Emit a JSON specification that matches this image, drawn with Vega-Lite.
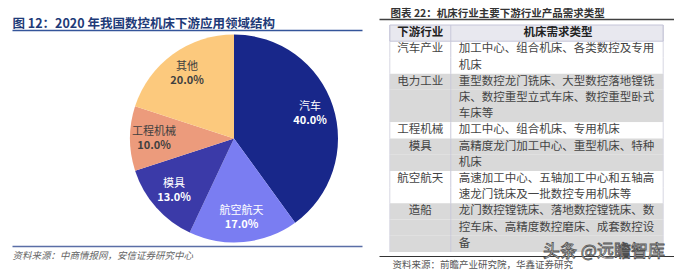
{
  "$schema": "https://vega.github.io/schema/vega-lite/v6.json",
  "autosize": {"type": "pad"},
  "padding": {"left": 12, "top": 8, "right": 0, "bottom": 5},
  "bounds": "flush",
  "spacing": 17,
  "config": {
    "font": "Noto Sans CJK SC",
    "view": {"stroke": null},
    "axis": {"minExtent": 0, "maxExtent": 0, "grid": false, "ticks": false, "labels": false}
  },
  "hconcat": [
    {
      "width": 350,
      "height": 227,
      "data": {"values": [
        {"领域": "汽车", "share": 0.40, "seq": 1},
        {"领域": "航空航天", "share": 0.17, "seq": 2},
        {"领域": "模具", "share": 0.13, "seq": 3},
        {"领域": "工程机械", "share": 0.10, "seq": 4},
        {"领域": "其他", "share": 0.20, "seq": 5}
      ]},
      "layer": [
        {
          "layer": [
            {
              "mark": {"type": "arc", "outerRadius": 104},
              "encoding": {
                "theta": {"field": "share", "type": "quantitative", "stack": true},
                "order": {"field": "seq", "type": "quantitative"},
                "color": {"field": "领域", "type": "nominal", "legend": null,
                  "scale": {"domain": ["汽车", "航空航天", "模具", "工程机械", "其他"],
                            "range": ["#18278a", "#7a7df2", "#3b3aa8", "#ec9b7c", "#fcc97d"]}},
                "x": {"datum": 222, "type": "quantitative", "scale": {"domain": [0, 350]},
                  "axis": {"orient": "top", "offset": -5, "domain": true, "domainColor": "#34559a", "domainWidth": 1.5,
                    "title": "图 12：2020 年我国数控机床下游应用领域结构", "titleFontSize": 12.5, "titleFontWeight": "bold",
                    "titleColor": "#1e3a78", "titleAnchor": "start", "titleAlign": "left", "titleBaseline": "alphabetic", "titlePadding": 2.5}}
              }
            },
            {
              "mark": {"type": "text", "radius": 80, "dy": -7, "fontSize": 11},
              "encoding": {
                "theta": {"field": "share", "type": "quantitative", "stack": true},
                "order": {"field": "seq", "type": "quantitative"},
                "text": {"field": "领域"},
                "color": {"condition": {"test": "datum['领域'] === '工程机械' || datum['领域'] === '其他'", "value": "#404040"}, "value": "#ffffff"},
                "x": {"datum": 222, "type": "quantitative"}
              }
            },
            {
              "mark": {"type": "text", "radius": 80, "dy": 7, "fontSize": 11, "fontWeight": "bold"},
              "encoding": {
                "theta": {"field": "share", "type": "quantitative", "stack": true},
                "order": {"field": "seq", "type": "quantitative"},
                "text": {"field": "share", "format": ".1%"},
                "color": {"condition": {"test": "datum['领域'] === '工程机械' || datum['领域'] === '其他'", "value": "#404040"}, "value": "#ffffff"},
                "x": {"datum": 222, "type": "quantitative"}
              }
            }
          ]
        },
        {
          "mark": {"type": "text", "text": ""},
          "encoding": {
            "x": {"datum": 0, "type": "quantitative", "scale": {"domain": [0, 350]},
              "axis": {"orient": "bottom", "offset": -6, "domain": true, "domainColor": "#5a6ea6", "domainWidth": 1.5,
                "title": "资料来源：中商情报网，安信证券研究中心", "titleFontSize": 9.5, "titleFontWeight": "normal",
                "titleFontStyle": "italic", "titleColor": "#666666", "titleAnchor": "start", "titleAlign": "left",
                "titleBaseline": "top", "titlePadding": 4}}
          }
        }
      ],
      "resolve": {"scale": {"x": "independent"}}
    },
    {
      "width": 295,
      "height": 227,
      "layer": [
        {
          "data": {"values": [
            {"line": 0, "行业": "下游行业", "需求": "机床需求类型"},
            {"line": 1, "行业": "汽车产业", "需求": "加工中心、组合机床、各类数控及专用"},
            {"line": 2, "行业": "汽车产业", "需求": "机床"},
            {"line": 3, "行业": "电力工业", "需求": "重型数控龙门铣床、大型数控落地镗铣"},
            {"line": 4, "行业": "电力工业", "需求": "床、数控重型立式车床、数控重型卧式"},
            {"line": 5, "行业": "电力工业", "需求": "车床等"},
            {"line": 6, "行业": "工程机械", "需求": "加工中心、组合机床、专用机床"},
            {"line": 7, "行业": "模具", "需求": "高精度龙门加工中心、重型机床、特种"},
            {"line": 8, "行业": "模具", "需求": "机床"},
            {"line": 9, "行业": "航空航天", "需求": "高速加工中心、五轴加工中心和五轴高"},
            {"line": 10, "行业": "航空航天", "需求": "速龙门铣床及一批数控专用机床等"},
            {"line": 11, "行业": "造船", "需求": "龙门数控镗铣床、落地数控镗铣床、数"},
            {"line": 12, "行业": "造船", "需求": "控车床、高精度数控磨床、成套数控设"},
            {"line": 13, "行业": "造船", "需求": "备"}
          ]},
          "layer": [
            {
              "mark": {"type": "rect"},
              "encoding": {
                "y": {"field": "line", "type": "ordinal", "scale": {"paddingInner": 0, "paddingOuter": 0}, "axis": null},
                "x": {"datum": 11, "type": "quantitative", "scale": {"domain": [0, 295]},
                  "axis": {"orient": "top", "offset": 6, "domain": true, "domainColor": "#404040", "domainWidth": 1.5,
                    "title": "图表 22：机床行业主要下游行业产品需求类型", "titleFontSize": 10.5, "titleFontWeight": "bold",
                    "titleColor": "#333333", "titleX": 11, "titleAlign": "left", "titleBaseline": "alphabetic", "titlePadding": 2.2}},
                "x2": {"datum": 289},
                "fill": {"field": "行业", "type": "nominal", "legend": null,
                  "scale": {"domain": ["下游行业", "汽车产业", "电力工业", "工程机械", "模具", "航空航天", "造船"],
                            "range": ["#e8e8ef", "#ffffff", "#d9d9d9", "#ffffff", "#d9d9d9", "#ffffff", "#d9d9d9"]}}
              }
            },
            {
              "mark": {"type": "rect", "fill": "#c9c9da"},
              "encoding": {
                "y": {"field": "line", "type": "ordinal"},
                "x": {"datum": 72.5, "type": "quantitative"},
                "x2": {"datum": 73.5}
              }
            },
            {
              "mark": {"type": "rect", "fill": "#d6d6e2"},
              "encoding": {
                "y": {"field": "line", "type": "ordinal"},
                "x": {"datum": 10.5, "type": "quantitative"},
                "x2": {"datum": 11.5}
              }
            },
            {
              "mark": {"type": "rect", "fill": "#d6d6e2"},
              "encoding": {
                "y": {"field": "line", "type": "ordinal"},
                "x": {"datum": 288.5, "type": "quantitative"},
                "x2": {"datum": 289.5}
              }
            },
            {
              "transform": [{"filter": "datum.line === 0"}],
              "mark": {"type": "rect", "fill": "transparent", "stroke": "#c4c4d8", "strokeWidth": 1},
              "encoding": {
                "y": {"field": "line", "type": "ordinal"},
                "x": {"datum": 11, "type": "quantitative"},
                "x2": {"datum": 289}
              }
            },
            {
              "transform": [{"filter": "datum.line > 0"}],
              "mark": {"type": "text", "align": "left", "fontSize": 11.5, "color": "#444444"},
              "encoding": {
                "y": {"field": "line", "type": "ordinal"},
                "x": {"datum": 81, "type": "quantitative"},
                "text": {"field": "需求"}
              }
            },
            {
              "transform": [
                {"filter": "datum.line > 0"},
                {"aggregate": [{"op": "min", "field": "line", "as": "line"}], "groupby": ["行业"]}
              ],
              "mark": {"type": "text", "align": "center", "fontSize": 11.5, "color": "#444444"},
              "encoding": {
                "y": {"field": "line", "type": "ordinal"},
                "x": {"datum": 42, "type": "quantitative"},
                "text": {"field": "行业"}
              }
            },
            {
              "transform": [{"filter": "datum.line === 0"}],
              "mark": {"type": "text", "align": "center", "fontSize": 11.5, "fontWeight": "bold", "color": "#222222"},
              "encoding": {
                "y": {"field": "line", "type": "ordinal"},
                "x": {"datum": 42, "type": "quantitative"},
                "text": {"field": "行业"}
              }
            },
            {
              "transform": [{"filter": "datum.line === 0"}],
              "mark": {"type": "text", "align": "center", "fontSize": 11.5, "fontWeight": "bold", "color": "#222222"},
              "encoding": {
                "y": {"field": "line", "type": "ordinal"},
                "x": {"datum": 182, "type": "quantitative"},
                "text": {"field": "需求"}
              }
            }
          ]
        },
        {
          "data": {"values": [{"水印": "头条 @远瞻智库"}]},
          "mark": {"type": "text", "fontSize": 17, "fill": "#ffffff", "stroke": "#505050", "strokeWidth": 0.8, "align": "center", "baseline": "middle"},
          "encoding": {
            "text": {"field": "水印"},
            "x": {"datum": 225, "type": "quantitative", "scale": {"domain": [0, 295]},
              "axis": {"orient": "bottom", "offset": 4, "domain": true, "domainColor": "#333333", "domainWidth": 1,
                "title": "资料来源：前瞻产业研究院，华鑫证券研究", "titleFontSize": 9.5, "titleFontWeight": "normal",
                "titleColor": "#555555", "titleX": 13, "titleAlign": "left", "titleBaseline": "top", "titlePadding": 3.5}},
            "y": {"datum": 0, "type": "quantitative", "scale": {"domain": [0, 1]}, "axis": null}
          }
        }
      ],
      "resolve": {"scale": {"x": "independent", "y": "independent"}}
    }
  ]
}
